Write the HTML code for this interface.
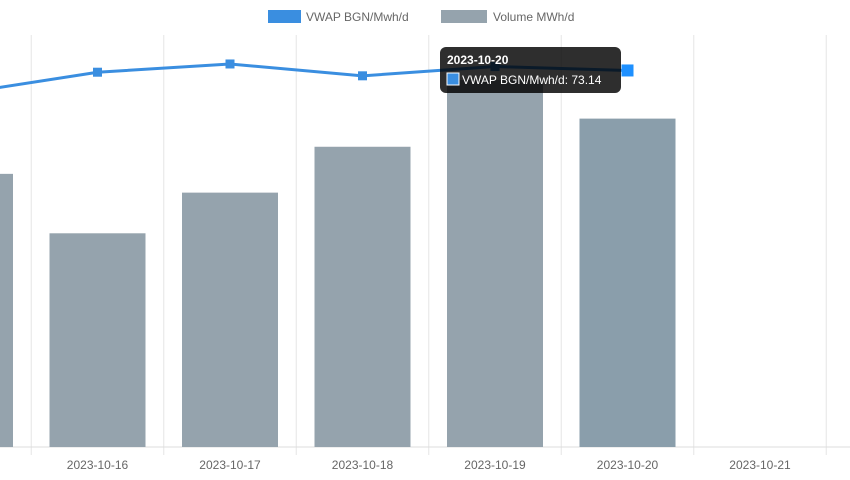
<!DOCTYPE html>
<html><head><meta charset="utf-8"><style>
body{margin:0;background:#fff;font-family:"Liberation Sans",Arial,sans-serif}
svg{display:block}
</style></head><body>
<svg id="c" width="850" height="480">
<g>
<rect x="268" y="10" width="33" height="13" fill="#3a8ee0"/>
<text x="306" y="21" font-size="12" fill="#666">VWAP BGN/Mwh/d</text>
<rect x="441" y="10" width="46" height="13" fill="#95a3ad"/>
<text x="493" y="21" font-size="12" fill="#666">Volume MWh/d</text>
</g>
<g id="grid"></g><g id="bars"></g><g id="line"></g><g id="xl"></g>
<g>
<rect x="440" y="47" width="181" height="46" rx="6" fill="rgba(0,0,0,0.82)"/>
<text x="447" y="64" font-size="12" font-weight="bold" fill="#fff">2023-10-20</text>
<rect x="447" y="73" width="12" height="12" fill="#3a8ee0" stroke="#fff" stroke-width="1"/>
<text x="462" y="84" font-size="12" fill="#fff">VWAP BGN/Mwh/d: 73.14</text>
</g>
</svg>
<script>
const categories=["2023-10-15","2023-10-16","2023-10-17","2023-10-18","2023-10-19","2023-10-20","2023-10-21"];
const volume=[262,205,244,288,352,315,null];
const vwap=[68.8,72.8,74.4,72.1,73.9,73.14,null];
const NS="http://www.w3.org/2000/svg";
const x0=-35,step=132.5,base=447,plotTop=30;
const xPos=i=>x0+i*step;
const yVol=v=>base-(v/400)*(base-plotTop);
const yV=v=>base-(v/81)*(base-plotTop);
function mk(t,a,p){const e=document.createElementNS(NS,t);for(const k in a)e.setAttribute(k,a[k]);p.appendChild(e);return e;}
const g=document.getElementById("grid");
for(let i=0;i<=categories.length;i++){const gx=xPos(i)-step/2;
const l=mk("line",{x1:gx,x2:gx,y1:35,y2:455,stroke:"#e5e5e5"},g);

}
const ax=mk("line",{x1:0,x2:850,y1:base,y2:base,stroke:"#ddd"},g);


const bg=document.getElementById("bars");
volume.forEach((v,i)=>{if(v==null)return;
const y=yVol(v);
const r=mk("rect",{x:xPos(i)-48,y:y,width:96,height:base-y,fill:i==5?"#8a9eab":"#95a3ad"},bg);

});
const lg=document.getElementById("line");
const pts=vwap.map((v,i)=>v==null?null:[xPos(i),yV(v)]).filter(p=>p);
const pl=mk("polyline",{points:pts.map(p=>p.join(",")).join(" "),fill:"none",stroke:"#3a8ee0","stroke-width":3},lg);


pts.forEach((p,i)=>{const s=i==5?12:9;
const r=mk("rect",{x:p[0]-s/2,y:p[1]-s/2,width:s,height:s,fill:i==5?"#1e90ff":"#3a8ee0"},lg);

});
const xl=document.getElementById("xl");
categories.forEach((c,i)=>{const t=mk("text",{x:xPos(i),y:469,"font-size":12,fill:"#666","text-anchor":"middle"},xl);t.textContent=c;

});
</script>
</body></html>
